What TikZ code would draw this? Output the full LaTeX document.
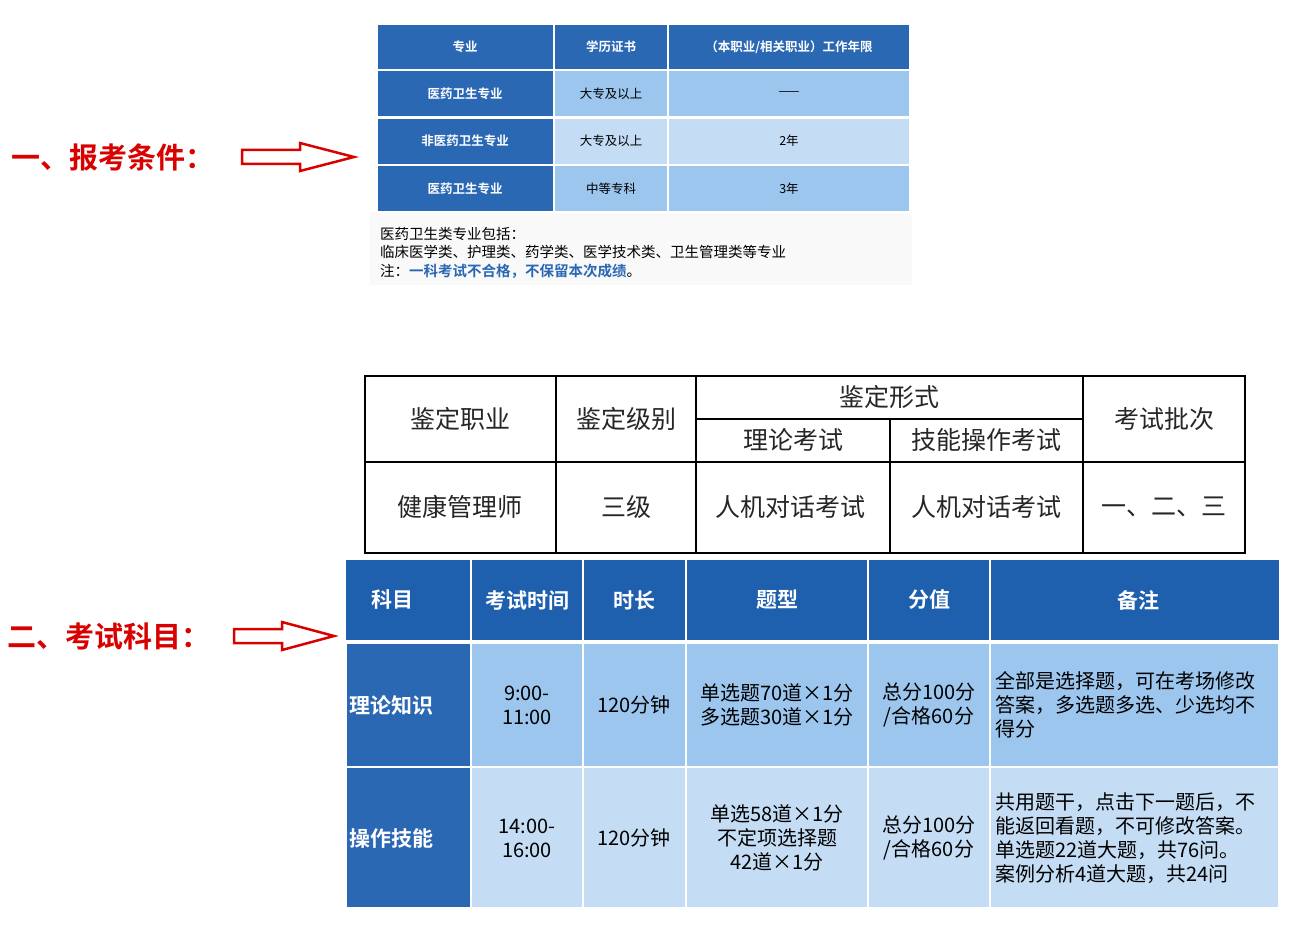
\documentclass[tikz,border=0pt]{standalone}
\usepackage{fontspec}
\newfontfamily\cjk{Noto Sans CJK SC}
\newfontfamily\cjkb{Noto Sans CJK SC Bold}
\begin{document}
\begin{tikzpicture}[x=1pt,y=-1pt,
  dk/.style={fill=dkblue,draw=white,line width=1.5pt},
  lt/.style={fill=ltblue,draw=white,line width=1.5pt},
  lt2/.style={fill=ltblue2,draw=white,line width=1.5pt},
  wt/.style={font=\cjkb\fontsize{12.5}{14}\selectfont,text=white},
  bt/.style={font=\cjk\fontsize{12.5}{14}\selectfont,text=black},
  mt/.style={font=\cjk\fontsize{25}{28}\selectfont,text=black!85},
  ht/.style={font=\cjkb\fontsize{21}{24}\selectfont,text=white},
  ct/.style={font=\cjk\fontsize{20}{24}\selectfont,text=black,align=center},
  red/.style={font=\cjkb\fontsize{29}{32}\selectfont,text=red!85!black,anchor=west},
  blk/.style={draw=red!85!black,line width=2.5pt,fill=white}]
\definecolor{dkblue}{HTML}{2A68B4}
\definecolor{ltblue}{HTML}{9CC6EE}
\definecolor{ltblue2}{HTML}{C4DDF5}
\definecolor{hdblue}{HTML}{1E5FAE}
\useasboundingbox (0,0) rectangle (1300,936);
% ---- top table
\fill[gray!5] (370,212) rectangle (912,285);
\path[dk] (377,24) rectangle (554,70); \path[dk] (554,24) rectangle (668,70); \path[dk] (668,24) rectangle (910,70);
\foreach \y/\s in {70/lt,118/lt2,165/lt}{
 \path[dk] (377,\y) rectangle (554,\y+47);
 \path[\s] (554,\y) rectangle (668,\y+47);
 \path[\s] (668,\y) rectangle (910,\y+47);}
\node[wt] (h1) at (465,47) {专业};
\node[wt] (h2) at (611,47) {学历证书};
\node[wt] (h3) at (789,47) {（本职业/相关职业）工作年限};
\node[wt] (r1) at (465,94) {医药卫生专业};
\node[bt] (r1b) at (611,94) {大专及以上};
\node[bt] (r1c) at (789,94) {——};
\node[wt] (r2) at (465,141) {非医药卫生专业};
\node[bt] (r2b) at (611,141) {大专及以上};
\node[bt] (r2c) at (789,141) {2年};
\node[wt] (r3) at (465,189) {医药卫生专业};
\node[bt] (r3b) at (611,189) {中等专科};
\node[bt] (r3c) at (789,189) {3年};
\node[font=\cjk\fontsize{14.5}{18.5}\selectfont,anchor=north west,align=left,inner sep=0pt] (note) at (380,227)
 {医药卫生类专业包括：\\临床医学类、护理类、药学类、医学技术类、卫生管理类等专业\\注：{\cjkb\color{dkblue}一科考试不合格，不保留本次成绩}。};
% ---- red labels & arrows
\node[red] (l1) at (8,157) {一、报考条件：};
\path[blk] (242,150)--(300,150)--(300,143)--(354,157)--(300,171)--(300,164)--(242,164)--cycle;
\node[red] (l2) at (4,636) {二、考试科目：};
\path[blk] (234,629)--(282,629)--(282,622)--(334,636)--(282,650)--(282,643)--(234,643)--cycle;
% ---- middle table
\draw[line width=1.5pt] (365,376) rectangle (1245,553);
\draw[line width=1.5pt] (365,462)--(1245,462) (696,419)--(1083,419);
\foreach \x in {556,696,1083} \draw[line width=1.5pt] (\x,376)--(\x,553);
\draw[line width=1.5pt] (890,419)--(890,553);
\node[mt] (m1) at (460,419) {鉴定职业};
\node[mt] (m2) at (626,419) {鉴定级别};
\node[mt] (m3) at (889,397) {鉴定形式};
\node[mt] (m4) at (793,440) {理论考试};
\node[mt] (m5) at (986,440) {技能操作考试};
\node[mt] (m6) at (1164,419) {考试批次};
\node[mt] (n1) at (460,507) {健康管理师};
\node[mt] (n2) at (626,507) {三级};
\node[mt] (n3) at (790,507) {人机对话考试};
\node[mt] (n4) at (986,507) {人机对话考试};
\node[mt] (n5) at (1164,507) {一、二、三};
% ---- bottom table
\fill[hdblue] (346,560) rectangle (1279,640);
\foreach \x in {471,583,686,868,990} \draw[white,line width=1.5pt] (\x,560)--(\x,640);
\path[dk] (346,643) rectangle (471,767);
\path[dk] (346,767) rectangle (471,908);
\foreach \a/\b in {471/583,583/686,686/868,868/990,990/1279}{
 \path[lt] (\a,643) rectangle (\b,767);
 \path[lt2] (\a,767) rectangle (\b,908);}
\node[ht] (t1) at (392,600) {科目};
\node[ht] (t2) at (527,600) {考试时间};
\node[ht] (t3) at (634,600) {时长};
\node[ht] (t4) at (777,600) {题型};
\node[ht] (t5) at (929,600) {分值};
\node[ht] (t6) at (1138,600) {备注};
\node[ht,anchor=west] (s1) at (346,705) {理论知识};
\node[ct] (a2) at (527,705) {9:00-\\11:00};
\node[ct] (a3) at (634,705) {120分钟};
\node[ct] (a4) at (777,705) {单选题70道×1分\\多选题30道×1分};
\node[ct] (a5) at (929,705) {总分100分\\/合格60分};
\node[ct,align=left,anchor=west,inner sep=0pt] (a6) at (995,705) {全部是选择题，可在考场修改\\答案，多选题多选、少选均不\\得分};
\node[ht,anchor=west] (s2) at (346,838) {操作技能};
\node[ct] (b2) at (527,838) {14:00-\\16:00};
\node[ct] (b3) at (634,838) {120分钟};
\node[ct] (b4) at (777,838) {单选58道×1分\\不定项选择题\\42道×1分};
\node[ct] (b5) at (929,838) {总分100分\\/合格60分};
\node[ct,align=left,anchor=west,inner sep=0pt] (b6) at (995,838) {共用题干，点击下一题后，不\\能返回看题，不可修改答案。\\单选题22道大题，共76问。\\案例分析4道大题，共24问};
\end{tikzpicture}
\end{document}
